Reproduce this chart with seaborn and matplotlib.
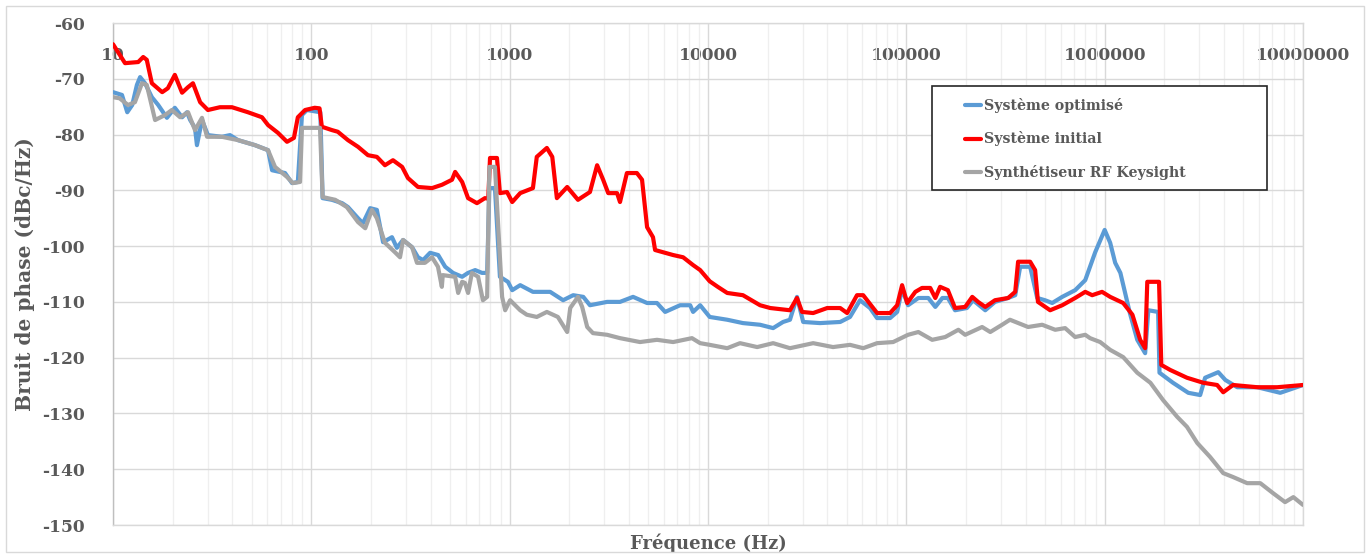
import matplotlib
matplotlib.use("Agg")
import matplotlib.pyplot as plt
import matplotlib.patches as mpatches
from matplotlib.ticker import FixedLocator, LogLocator, NullFormatter
import pandas as pd
import seaborn as sns

# Data
labels = ["Système optimisé", "Système initial", "Synthétiseur RF Keysight"]
colors = ["#5b9bd5", "#ff0000", "#a5a5a5"]

opt_freq = [10, 11.1, 11.8, 12.5, 13.2, 13.7, 14.5, 15.7, 16.9, 18.7, 20.5, 22.3, 23.6, 24.5, 25.9, 26.5, 28.1,
            30.1, 35.4, 38.9, 42.7, 52, 60.5, 63.4, 73.7, 79.9, 85.5, 89.7, 95, 111, 114, 127, 143, 153, 172,
            182, 198, 214, 230, 255, 270, 290, 322, 345, 366, 397, 436, 473, 518, 576, 617, 670, 725, 770, 790,
            843, 893, 980, 1030, 1130, 1310, 1600, 1860, 2090, 2350, 2540, 3100, 3600, 4190, 4930, 5530, 6080,
            7230, 8130, 8410, 9130, 10200, 12500, 15000, 18300, 21300, 23900, 25900, 28100, 30200, 36700, 46400,
            52000, 58400, 65600, 71200, 82800, 89900, 95200, 102000, 115000, 129000, 140000, 152000, 162000,
            176000, 202000, 217000, 250000, 280000, 326000, 354000, 375000, 421000, 457000, 500000, 544000,
            611000, 710000, 798000, 896000, 1000000, 1066000, 1130000, 1200000, 1340000, 1460000, 1600000,
            1660000, 1860000, 1890000, 2210000, 2640000, 3030000, 3210000, 3740000, 4060000, 4660000, 5880000,
            7680000, 10000000]
opt_db = [-72.4, -72.9, -76.0, -74.7, -71.1, -69.7, -70.8, -73.3, -74.7, -77.0, -75.2, -76.9, -76.0, -77.4,
          -78.8, -81.9, -77.4, -80.1, -80.4, -80.1, -81.0, -81.9, -82.8, -86.4, -86.9, -88.7, -88.5, -76.5,
          -75.6, -76.0, -91.4, -91.7, -92.3, -93.0, -95.0, -95.9, -93.2, -93.5, -99.3, -98.4, -100.3, -98.9,
          -100.2, -102.0, -102.5, -101.2, -101.6, -103.7, -104.8, -105.5, -104.8, -104.3, -104.8, -104.8,
          -89.6, -89.6, -105.5, -106.4, -107.9, -107.0, -108.2, -108.2, -109.7, -108.8, -109.1, -110.6,
          -110.0, -110.0, -109.1, -110.2, -110.2, -111.8, -110.6, -110.6, -111.8, -110.6, -112.7, -113.2,
          -113.8, -114.1, -114.7, -113.6, -113.2, -109.1, -113.6, -113.8, -113.6, -112.7, -109.7, -111.1,
          -112.9, -112.9, -111.8, -107.7, -110.6, -109.3, -109.3, -110.9, -109.3, -109.3, -111.5, -111.1,
          -109.7, -111.5, -110.0, -109.3, -108.8, -103.7, -103.7, -109.3, -109.7, -110.2, -109.1, -107.9,
          -106.1, -101.1, -97.1, -99.4, -103.0, -104.8, -112.0, -116.8, -119.2, -111.5, -111.8, -122.7,
          -124.5, -126.3, -126.7, -123.6, -122.6, -124.0, -125.3, -125.3, -126.3, -124.9]

init_freq = [10, 11.5, 13.4, 14.2, 14.8, 15.7, 17.7, 18.9, 20.5, 22.3, 23.9, 25.3, 27.5, 30.1, 34.6, 39.8, 47.9,
             56.4, 60.5, 67.9, 75.4, 81.7, 85.5, 93, 104, 110, 113, 127, 136, 153, 172, 193, 214, 235, 258, 287,
             307, 345, 406, 456, 512, 531, 576, 617, 684, 750, 780, 796, 863, 893, 970, 1030, 1130, 1310, 1370,
             1540, 1640, 1730, 1950, 2210, 2540, 2760, 2960, 3140, 3480, 3600, 3900, 4380, 4650, 4930, 5280,
             5410, 5940, 6670, 7490, 8410, 9130, 10200, 11200, 12500, 15000, 18300, 20600, 25900, 28100, 29800,
             33900, 39900, 46400, 50300, 56400, 60600, 71200, 82800, 89900, 95200, 101000, 111000, 120000,
             132000, 140000, 148000, 162000, 176000, 198000, 215000, 230000, 250000, 280000, 326000, 354000,
             366000, 421000, 446000, 461000, 531000, 611000, 710000, 798000, 865000, 970000, 1066000, 1240000,
             1380000, 1510000, 1600000, 1640000, 1880000, 1930000, 2140000, 2600000, 3140000, 3690000, 3960000,
             4440000, 5880000, 7420000, 10000000]
init_db = [-63.8, -67.2, -67.0, -66.1, -66.6, -70.8, -72.4, -71.7, -69.3, -72.5, -71.5, -70.8, -74.2, -75.6,
           -75.1, -75.1, -76.0, -76.9, -78.3, -79.7, -81.3, -80.6, -76.9, -75.6, -75.2, -75.3, -78.6, -79.2,
           -79.5, -81.0, -82.2, -83.7, -84.0, -85.5, -84.6, -85.8, -87.8, -89.4, -89.6, -89.0, -88.1, -86.7,
           -88.5, -91.4, -92.3, -91.4, -91.5, -84.2, -84.2, -90.5, -90.3, -92.1, -90.5, -89.6, -84.0, -82.4,
           -84.0, -91.4, -89.4, -91.7, -90.3, -85.5, -88.1, -90.5, -90.5, -92.1, -86.9, -86.9, -88.1, -96.6,
           -98.4, -100.7, -101.1, -101.6, -102.0, -103.4, -104.3, -106.3, -107.3, -108.4, -108.8, -110.6,
           -111.1, -111.5, -109.3, -111.8, -112.0, -111.1, -111.1, -112.0, -108.8, -108.8, -112.0, -112.0,
           -110.6, -107.0, -110.2, -108.2, -107.5, -107.5, -109.3, -107.3, -107.9, -111.1, -110.9, -109.1,
           -110.0, -110.9, -109.7, -109.3, -108.2, -102.8, -102.8, -104.3, -110.0, -111.5, -110.6, -109.3,
           -108.2, -108.8, -108.2, -109.1, -110.2, -112.3, -116.8, -118.3, -106.4, -106.4, -121.3, -122.2,
           -123.6, -124.5, -124.9, -126.2, -124.9, -125.3, -125.3, -124.9]

synth_freq = [10, 10.8, 11.9, 12.9, 14.0, 14.8, 16.3, 18.3, 19.8, 21.8, 23.9, 25.9, 28.1, 29.8, 35.4, 42.7,
              52, 60.5, 65.6, 75.4, 80.7, 87.7, 89.7, 110.6, 114, 132, 151, 172, 187, 202, 214, 235, 264, 280,
              290, 322, 341, 374, 406, 435, 455, 460, 531, 550, 576, 595, 617, 645, 693, 733, 770, 790, 843,
              916, 949, 1005, 1130, 1220, 1370, 1540, 1750, 1950, 2020, 2210, 2320, 2460, 2630, 3100, 3600,
              4540, 5530, 6670, 8300, 9130, 10200, 12500, 14500, 17700, 21300, 25900, 33900, 42700, 52000,
              60600, 71200, 85800, 102000, 115000, 135000, 157000, 183000, 198000, 241000, 265000, 304000,
              333000, 411000, 484000, 563000, 632000, 710000, 798000, 844000, 949000, 1066000, 1240000,
              1460000, 1700000, 1970000, 2320000, 2600000, 2930000, 3400000, 3960000, 4440000, 5230000,
              6090000, 7070000, 8120000, 8940000, 10000000]
synth_db = [-73.3, -73.5, -74.7, -74.2, -70.8, -71.1, -77.4, -76.5, -75.6, -76.9, -76.0, -79.2, -77.0, -80.4,
            -80.4, -81.0, -81.9, -82.8, -85.8, -87.6, -88.7, -88.5, -78.8, -78.8, -91.2, -91.7, -93.0, -95.7,
            -96.8, -93.5, -95.0, -99.4, -101.1, -102.0, -98.9, -100.2, -103.0, -103.0, -102.0, -103.7, -107.3,
            -105.2, -105.5, -108.4, -106.4, -106.6, -108.4, -104.8, -105.5, -109.7, -109.1, -85.8, -85.8,
            -109.1, -111.5, -109.7, -111.5, -112.3, -112.7, -111.8, -112.7, -115.4, -111.1, -109.1, -110.9,
            -114.5, -115.6, -115.9, -116.5, -117.2, -116.8, -117.2, -116.5, -117.4, -117.7, -118.3, -117.4,
            -118.1, -117.4, -118.3, -117.4, -118.1, -117.7, -118.3, -117.4, -117.2, -115.9, -115.4, -116.8,
            -116.3, -115.0, -115.9, -114.5, -115.4, -114.1, -113.2, -114.5, -114.1, -115.0, -114.7, -116.3,
            -115.9, -116.5, -117.2, -118.6, -119.9, -122.7, -124.5, -127.6, -130.6, -132.4, -135.3, -137.8,
            -140.7, -141.4, -142.5, -142.5, -144.3, -145.9, -145.0, -146.4]

x_ticks = [10, 100, 1000, 10000, 100000, 1000000, 10000000]
x_ticklabels = ["10", "100", "1000", "10000", "100000", "1000000", "10000000"]
y_ticks = list(range(-150, -59, 10))

# Style
sns.set_style("white")
TEXT = "#595959"
plt.rcParams.update({
    "font.family": ["DejaVu Serif"],
    "font.weight": "bold",
    "font.size": 12,
    "text.color": TEXT,
    "axes.labelcolor": TEXT,
    "axes.labelweight": "bold",
    "xtick.color": TEXT,
    "ytick.color": TEXT,
})

fig = plt.figure(figsize=(13.7, 5.58), dpi=100)
W, H = 1370, 558
L, R, T, B = 113, 1303, 23, 525
ax = fig.add_axes([L / W, 1 - B / H, (R - L) / W, (B - T) / H])

series = [(opt_freq, opt_db), (init_freq, init_db), (synth_freq, synth_db)]
for (f, d), lab, c in zip(series, labels, colors):
    df = pd.DataFrame({"freq": f, "db": d})
    sns.lineplot(data=df, x="freq", y="db", sort=False, estimator=None, color=c, lw=3.0,
                 label=lab, ax=ax, solid_joinstyle="round", zorder=3)

ax.set_xscale("log")
ax.set_xlim(10, 1e7)
ax.set_ylim(-150, -60)

ax.xaxis.set_major_locator(FixedLocator(x_ticks))
ax.set_xticklabels(x_ticklabels)
ax.xaxis.set_minor_locator(LogLocator(base=10, subs=range(2, 10), numticks=20))
ax.xaxis.set_minor_formatter(NullFormatter())
ax.set_yticks(y_ticks)
ax.set_yticklabels([str(v) for v in y_ticks])

ax.tick_params(axis="x", which="both", bottom=False, top=False, labelbottom=False, labeltop=True,
               pad=-33, labelsize=12.3)
ax.tick_params(axis="y", which="both", left=False, right=False, pad=17, labelsize=12.3)

ax.grid(which="major", axis="both", color="#d9d9d9", lw=1.0, zorder=0)
ax.grid(which="minor", axis="x", color="#efefef", lw=0.9, zorder=0)
ax.set_axisbelow(True)
for s in ["top", "right", "bottom"]:
    ax.spines[s].set_color("#d9d9d9")
    ax.spines[s].set_linewidth(1.0)
ax.spines["left"].set_color("#bfbfbf")
ax.spines["left"].set_linewidth(1.0)

ax.set_xlabel("Fréquence (Hz)", fontsize=13, va="center")
ax.xaxis.set_label_coords(0.5, (B - 543) / (B - T))
ax.set_ylabel("Bruit de phase (dBc/Hz)", fontsize=14.5, va="center")
ax.yaxis.set_label_coords((25 - L) / (R - L), 0.5)

# Legend: frame drawn separately to match the reference box
lx0, lx1, ly0, ly1 = 932, 1267, 86, 190
ax.add_patch(mpatches.Rectangle(((lx0 - L) / (R - L), (B - ly1) / (B - T)),
                                (lx1 - lx0) / (R - L), (ly1 - ly0) / (B - T),
                                transform=ax.transAxes, facecolor="white", edgecolor="#262626",
                                lw=1.2, zorder=4))
leg = ax.legend(loc="upper left", bbox_to_anchor=((958 - L) / (R - L), (B - 91) / (B - T)),
                frameon=False, borderpad=0, handlelength=1.1, handletextpad=0.2,
                labelspacing=1.3, fontsize=10.2)
leg.set_zorder(5)
for t in leg.get_texts():
    t.set_color(TEXT)

# outer border
fig.add_artist(mpatches.Rectangle((6 / W, 6 / H), 1 - 12 / W, 1 - 12 / H, transform=fig.transFigure,
                                  fill=False, edgecolor="#d9d9d9", lw=1.0))

fig.savefig("out.png", dpi=100)
